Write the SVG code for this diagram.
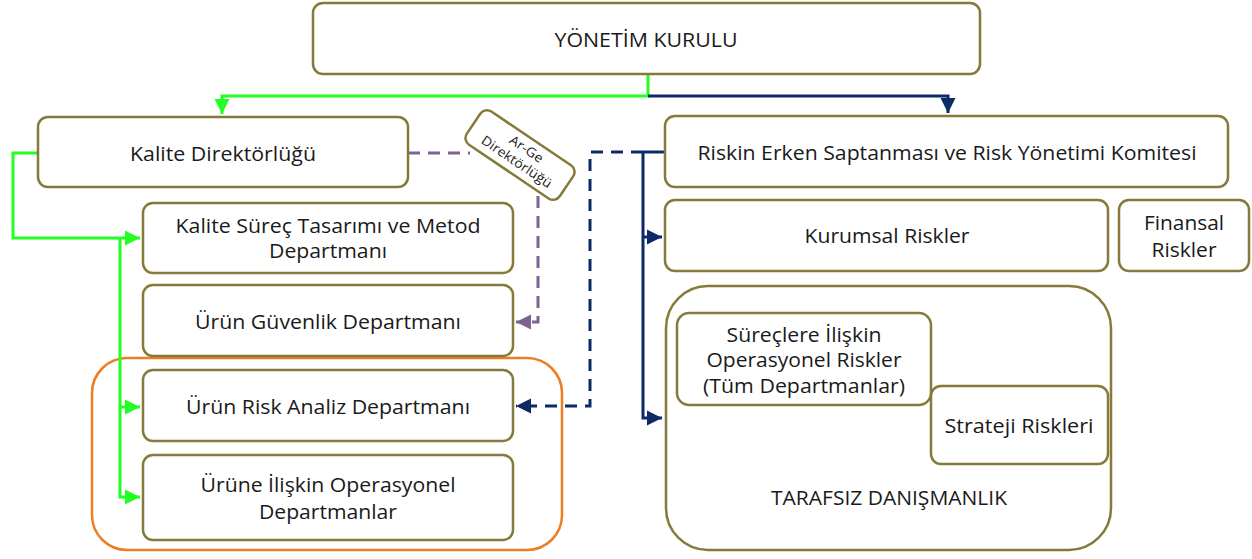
<svg xmlns="http://www.w3.org/2000/svg" width="1252" height="559" viewBox="0 0 1252 559">
<style>
.box{fill:#fff;stroke:#857A3A;stroke-width:2.5}
.t{font-family:"Open Sans","Liberation Sans",sans-serif;font-size:20px;fill:#1a1a1a;text-anchor:middle}
.s{font-size:13px}
.g{fill:none;stroke:#22FF22;stroke-width:3}
.n{fill:none;stroke:#0B2A66;stroke-width:3}
.nd{fill:none;stroke:#0B2A66;stroke-width:3;stroke-dasharray:12 8}
.pd{fill:none;stroke:#7E6391;stroke-width:3;stroke-dasharray:12 8}
</style>
<defs>
<marker id="ag" markerWidth="6" markerHeight="6" refX="5" refY="3" orient="auto" markerUnits="strokeWidth"><path d="M0,0.5 L5,3 L0,5.5 Z" fill="#22FF22"/></marker>
<marker id="an" markerWidth="6" markerHeight="6" refX="5" refY="3" orient="auto" markerUnits="strokeWidth"><path d="M0,0.5 L5,3 L0,5.5 Z" fill="#0B2A66"/></marker>
<marker id="ap" markerWidth="6" markerHeight="6" refX="5" refY="3" orient="auto" markerUnits="strokeWidth"><path d="M0,0.5 L5,3 L0,5.5 Z" fill="#7E6391"/></marker>
</defs>
<rect x="0" y="0" width="1252" height="559" fill="#fff"/>

<g id="orange-group">
<rect x="92" y="358" width="470" height="192" rx="35" fill="none" stroke="#EE7D22" stroke-width="2.5"/>
</g>

<g id="tarafsiz">
<rect class="box" x="666" y="286" width="445" height="264" rx="42"/>
<text class="t" x="889" y="505" textLength="236" lengthAdjust="spacingAndGlyphs">TARAFSIZ DANIŞMANLIK</text>
</g>

<g id="connectors">
<polyline class="g" points="648,74 648,96 222,96 222,114" marker-end="url(#ag)"/>
<polyline class="n" points="648,96 948,96 948,113" marker-end="url(#an)"/>
<polyline class="g" points="38,153 13,153 13,238 140,238" marker-end="url(#ag)"/>
<polyline class="g" points="120,238 120,497 140,497" marker-end="url(#ag)"/>
<line class="g" x1="120" y1="407" x2="140" y2="407" marker-end="url(#ag)"/>
<polyline class="pd" points="408,153 470,153"/>
<polyline class="pd" points="538,196 538,322 516,322" marker-end="url(#ap)"/>
<polyline class="nd" points="643,152 590,152 590,406 516,406" marker-end="url(#an)"/>
<line class="n" x1="665" y1="152" x2="643" y2="152"/>
<polyline class="n" points="643,152 643,418 662,418" marker-end="url(#an)"/>
<line class="n" x1="643" y1="237" x2="662" y2="237" marker-end="url(#an)"/>
</g>

<g id="yonetim">
<rect class="box" x="313" y="3" width="667" height="71" rx="10"/>
<text class="t" x="646" y="47" textLength="183" lengthAdjust="spacingAndGlyphs">YÖNETİM KURULU</text>
</g>

<g id="kalite-dir">
<rect class="box" x="38" y="117" width="370" height="70" rx="10"/>
<text class="t" x="223" y="161" textLength="186" lengthAdjust="spacingAndGlyphs">Kalite Direktörlüğü</text>
</g>

<g id="arge">
<g transform="translate(520,155) rotate(34)">
<rect class="box" x="-56" y="-20" width="112" height="40" rx="8"/>
<text class="t s" x="2" y="-4" textLength="38" lengthAdjust="spacingAndGlyphs">Ar-Ge</text>
<text class="t s" x="1" y="12" textLength="82" lengthAdjust="spacingAndGlyphs">Direktörlüğü</text>
</g>
</g>

<g id="kalite-surec">
<rect class="box" x="143" y="203" width="370" height="70" rx="10"/>
<text class="t" x="328" y="233" textLength="305" lengthAdjust="spacingAndGlyphs">Kalite Süreç Tasarımı ve Metod</text>
<text class="t" x="328" y="258" textLength="118" lengthAdjust="spacingAndGlyphs">Departmanı</text>
</g>

<g id="urun-guvenlik">
<rect class="box" x="143" y="285" width="370" height="71" rx="10"/>
<text class="t" x="328" y="329" textLength="266" lengthAdjust="spacingAndGlyphs">Ürün Güvenlik Departmanı</text>
</g>

<g id="urun-risk">
<rect class="box" x="143" y="370" width="370" height="71" rx="10"/>
<text class="t" x="328" y="414" textLength="284" lengthAdjust="spacingAndGlyphs">Ürün Risk Analiz Departmanı</text>
</g>

<g id="urune-iliskin">
<rect class="box" x="143" y="455" width="370" height="85" rx="10"/>
<text class="t" x="328" y="492" textLength="255" lengthAdjust="spacingAndGlyphs">Ürüne İlişkin Operasyonel</text>
<text class="t" x="328" y="519" textLength="138" lengthAdjust="spacingAndGlyphs">Departmanlar</text>
</g>

<g id="riskin">
<rect class="box" x="665" y="116" width="563" height="71" rx="10"/>
<text class="t" x="947" y="160" textLength="499" lengthAdjust="spacingAndGlyphs">Riskin Erken Saptanması ve Risk Yönetimi Komitesi</text>
</g>

<g id="kurumsal">
<rect class="box" x="665" y="200" width="443" height="71" rx="10"/>
<text class="t" x="887" y="243" textLength="165" lengthAdjust="spacingAndGlyphs">Kurumsal Riskler</text>
</g>

<g id="finansal">
<rect class="box" x="1119" y="200" width="130" height="71" rx="10"/>
<text class="t" x="1184" y="230" textLength="80" lengthAdjust="spacingAndGlyphs">Finansal</text>
<text class="t" x="1184" y="257" textLength="65" lengthAdjust="spacingAndGlyphs">Riskler</text>
</g>

<g id="surecler">
<rect class="box" x="677" y="313" width="254" height="92" rx="12"/>
<text class="t" x="804" y="342" textLength="155" lengthAdjust="spacingAndGlyphs">Süreçlere İlişkin</text>
<text class="t" x="804" y="367" textLength="195" lengthAdjust="spacingAndGlyphs">Operasyonel Riskler</text>
<text class="t" x="804" y="393" textLength="202" lengthAdjust="spacingAndGlyphs">(Tüm Departmanlar)</text>
</g>

<g id="strateji">
<rect class="box" x="931" y="386" width="177" height="78" rx="10"/>
<text class="t" x="1019" y="433" textLength="149" lengthAdjust="spacingAndGlyphs">Strateji Riskleri</text>
</g>
</svg>
